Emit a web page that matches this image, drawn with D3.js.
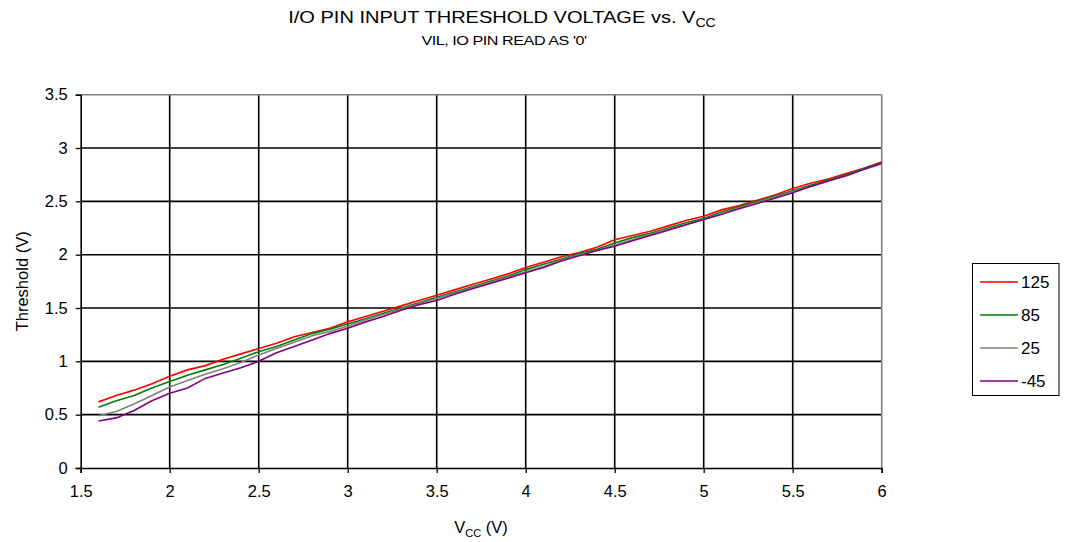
<!DOCTYPE html>
<html><head><meta charset="utf-8">
<script src="https://cdn.jsdelivr.net/npm/d3@7"></script>
<style>body{margin:0;background:#fff}svg{font-family:"Liberation Sans",Arial,sans-serif}</style>
</head><body><svg id="c" width="1073" height="542"></svg>
<script>
const vcc = [1.6,1.7,1.8,1.9,2.0,2.1,2.2,2.3,2.4,2.5,2.6,2.7,2.8,2.9,3.0,3.1,3.2,3.3,3.4,3.5,3.6,3.7,3.8,3.9,4.0,4.1,4.2,4.3,4.4,4.5,4.6,4.7,4.8,4.9,5.0,5.1,5.2,5.3,5.4,5.5,5.6,5.7,5.8,5.9,6.0];
const t125 = [.62,.68,.73,.79,.86,.92,.96,1.02,1.07,1.12,1.17,1.23,1.27,1.31,1.37,1.42,1.47,1.52,1.57,1.62,1.67,1.72,1.77,1.82,1.88,1.93,1.98,2.02,2.07,2.14,2.18,2.22,2.27,2.32,2.36,2.42,2.46,2.51,2.56,2.62,2.67,2.71,2.76,2.81,2.87];
const t85 = [.57,.63,.68,.75,.81,.87,.92,.97,1.03,1.09,1.14,1.20,1.26,1.30,1.35,1.40,1.45,1.50,1.55,1.60,1.65,1.70,1.75,1.80,1.86,1.91,1.96,2.01,2.05,2.11,2.16,2.20,2.25,2.30,2.34,2.40,2.45,2.50,2.55,2.60,2.65,2.70,2.75,2.81,2.86];
const t25 = [.49,.53,.60,.68,.76,.82,.88,.93,.99,1.06,1.12,1.18,1.24,1.28,1.33,1.39,1.44,1.49,1.54,1.59,1.64,1.69,1.74,1.79,1.84,1.89,1.95,2.00,2.04,2.09,2.14,2.19,2.24,2.28,2.33,2.38,2.44,2.49,2.54,2.59,2.64,2.69,2.74,2.80,2.85];
const tm45 = [.44,.47,.54,.63,.70,.75,.84,.89,.94,1.00,1.08,1.14,1.20,1.26,1.31,1.37,1.42,1.48,1.53,1.57,1.63,1.68,1.73,1.78,1.83,1.88,1.94,1.99,2.04,2.08,2.13,2.18,2.23,2.28,2.33,2.38,2.43,2.48,2.53,2.58,2.64,2.69,2.74,2.80,2.86];
const seriesNames = ["125","85","25","-45"];
const seriesColors = ["#ff0000","#008000","#808080","#800080"];
const xTicks = [1.5,2,2.5,3,3.5,4,4.5,5,5.5,6];
const yTicks = [0,0.5,1,1.5,2,2.5,3,3.5];

const series = [t125,t85,t25,tm45];
const svg = d3.select("#c");
const L=80.7,R=881.7,T=94.7,B=468;
const x = d3.scaleLinear().domain([1.5,6]).range([L,R]);
const y = d3.scaleLinear().domain([0,3.5]).range([B,T]);
const FONT = "Liberation Sans, Arial, sans-serif";

// grid
const g = svg.append("g");
g.selectAll(".vg").data(xTicks.slice(1,-1)).join("line")
 .attr("x1",d=>x(d)).attr("x2",d=>x(d)).attr("y1",T).attr("y2",B)
 .attr("stroke","#000").attr("stroke-width",1.6);
g.selectAll(".hg").data(yTicks.slice(1,-1)).join("line")
 .attr("x1",L).attr("x2",R).attr("y1",d=>y(d)).attr("y2",d=>y(d))
 .attr("stroke","#000").attr("stroke-width",1.6);
g.append("line").attr("x1",L).attr("x2",R).attr("y1",T).attr("y2",T).attr("stroke","#808080").attr("stroke-width",1.6);
g.append("line").attr("x1",R).attr("x2",R).attr("y1",T).attr("y2",B).attr("stroke","#808080").attr("stroke-width",1.6);

// axes
const xa = svg.append("g").attr("transform",`translate(0,${B})`)
 .call(d3.axisBottom(x).tickValues(xTicks).tickSize(5).tickPadding(12).tickFormat(d3.format("")));
const ya = svg.append("g").attr("transform",`translate(${L},0)`)
 .call(d3.axisLeft(y).tickValues(yTicks).tickSize(5).tickPadding(8).tickFormat(d3.format("")));
[xa,ya].forEach(a=>{
  a.select(".domain").attr("stroke","#000").attr("stroke-width",1.6);
  a.selectAll(".tick line").attr("stroke","#000").attr("stroke-width",1.3);
  a.selectAll("text").attr("font-size",16.5).attr("fill","#000").attr("font-family",FONT);
});

// lines (first series drawn first, last on top)
const line = d3.line().x((d,i)=>x(vcc[i])).y(d=>y(d));
series.forEach((s,k)=>{
  svg.append("path").datum(s).attr("d",line)
   .attr("fill","none").attr("stroke",seriesColors[k]).attr("stroke-width",1.6);
});

// titles
const tg = svg.append("g").attr("transform","translate(502,23) scale(1.18,1)");
const title = tg.append("text").attr("x",0).attr("y",0).attr("text-anchor","middle")
 .attr("font-size",17).attr("fill","#000");
title.append("tspan").text("I/O PIN INPUT THRESHOLD VOLTAGE vs. V");
title.append("tspan").attr("font-size",12).attr("dy",4).text("CC");
const sg = svg.append("g").attr("transform","translate(504,45) scale(1.2,1)");
sg.append("text").attr("x",0).attr("y",0).attr("text-anchor","middle")
 .attr("font-size",13.5).attr("letter-spacing",-0.4).attr("fill","#000").text("VIL, IO PIN READ AS '0'");

const xl = svg.append("text").attr("x",481).attr("y",533).attr("text-anchor","middle").attr("font-size",16.5).attr("fill","#000");
xl.append("tspan").text("V");
xl.append("tspan").attr("font-size",11).attr("dy",4).text("CC");
xl.append("tspan").attr("dy",-4).text(" (V)");

svg.append("text").attr("transform",`translate(28,${(T+B)/2}) rotate(-90)`).attr("text-anchor","middle")
 .attr("font-size",16.5).attr("fill","#000").text("Threshold (V)");

// legend
const lg = svg.append("g");
lg.append("rect").attr("x",972.5).attr("y",263.5).attr("width",86.5).attr("height",132)
 .attr("fill","#fff").attr("stroke","#000").attr("stroke-width",1);
seriesNames.forEach((n,i)=>{
  const yy = 282 + i*33;
  lg.append("line").attr("x1",980).attr("x2",1018).attr("y1",yy).attr("y2",yy)
   .attr("stroke",seriesColors[i]).attr("stroke-width",1.6);
  lg.append("text").attr("x",1021).attr("y",yy+5.5).attr("font-size",17).attr("fill","#000").text(n);
});
</script></body></html>
